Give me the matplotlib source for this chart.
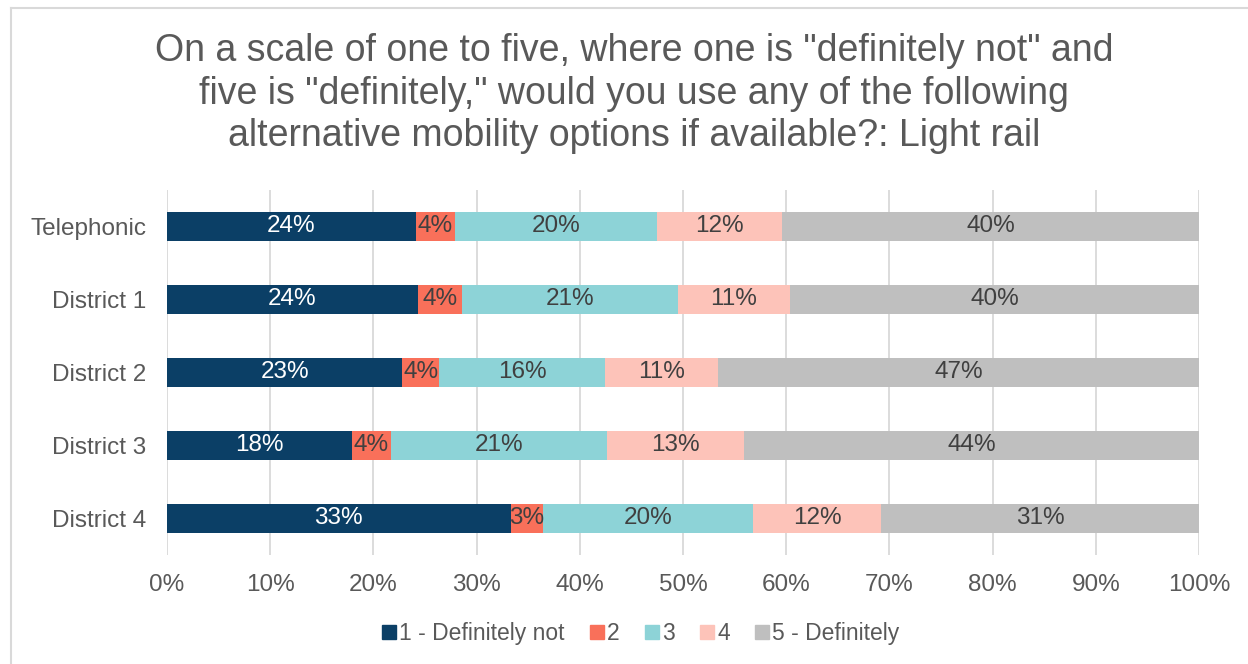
import matplotlib.pyplot as plt
import numpy as np
from matplotlib.lines import Line2D

# survey response shares (%) per group, one list per answer level
groups = ['Telephonic', 'District 1', 'District 2', 'District 3', 'District 4']
levels = ['1 - Definitely not', '2', '3', '4', '5 - Definitely']
share_1 = [24.1, 24.3, 22.8, 17.9, 33.3]
share_2 = [3.8, 4.3, 3.6, 3.8, 3.1]
share_3 = [19.6, 20.9, 16.0, 20.9, 20.4]
share_4 = [12.1, 10.9, 11.0, 13.3, 12.4]
share_5 = [40.4, 39.6, 46.6, 44.1, 30.8]

title = ('On a scale of one to five, where one is "definitely not" and\n'
         'five is "definitely," would you use any of the following\n'
         'alternative mobility options if available?: Light rail')

colors = ['#0B3F66', '#F9705A', '#8DD3D7', '#FDC3B9', '#BFBFBF']
label_colors = ['white', '#404040', '#404040', '#404040', '#404040']
text_gray = '#595959'
fs = 17.5

plt.rcParams['font.family'] = ['Liberation Sans', 'DejaVu Sans']

fig = plt.figure(figsize=(12.48, 6.64), dpi=100)
ax = fig.add_axes([0.1338, 0.1642, 0.8269, 0.5497])

y = np.arange(len(groups))
left = np.zeros(len(groups))
for vals, col, tcol, name in zip([share_1, share_2, share_3, share_4, share_5],
                                 colors, label_colors, levels):
    vals = np.array(vals)
    ax.barh(y, vals, left=left, height=0.4, color=col, label=name, zorder=3)
    for yi, l, v in zip(y, left, vals):
        ax.text(l + v / 2, yi, f'{v:.0f}%', ha='center', va='center',
                color=tcol, fontsize=fs, zorder=4)
    left += vals

ax.set_xlim(0, 100)
ax.set_ylim(len(groups) - 0.5, -0.5)
ax.set_yticks(y)
ax.set_yticklabels(groups)
ax.set_xticks(np.arange(0, 101, 10))
ax.set_xticklabels([f'{t}%' for t in range(0, 101, 10)])
ax.tick_params(axis='both', length=0, labelsize=fs, labelcolor=text_gray)
ax.tick_params(axis='x', pad=14)
ax.tick_params(axis='y', pad=15)
ax.grid(axis='x', color='#D9D9D9', linewidth=1.3, zorder=0)
for s in ax.spines.values():
    s.set_visible(False)

fig.text(0.508, 0.859, title, ha='center', va='center', fontsize=27,
         color=text_gray, linespacing=1.24)

handles = [Line2D([], [], marker='s', linestyle='', markersize=10.5,
                  markerfacecolor=c, markeredgecolor=c) for c in colors]
fig.legend(handles, levels, loc='center', bbox_to_anchor=(0.512, 0.046),
           ncol=5, frameon=False, fontsize=16.5, labelcolor=text_gray,
           handletextpad=0.0, columnspacing=0.95, handlelength=0.9)

# chart area frame (left and top edges visible)
fig.add_artist(Line2D([11 / 1248, 11 / 1248], [0, 1 - 7.5 / 664],
                      transform=fig.transFigure, color='#D9D9D9', linewidth=1.5))
fig.add_artist(Line2D([11 / 1248, 1], [1 - 7.5 / 664, 1 - 7.5 / 664],
                      transform=fig.transFigure, color='#D9D9D9', linewidth=1.5))

fig.savefig('out.png', dpi=100)
